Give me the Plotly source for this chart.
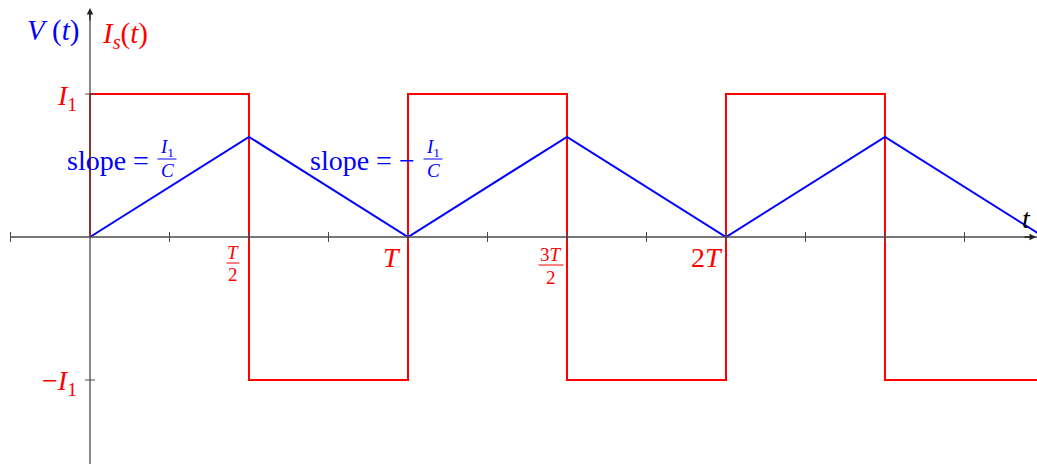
import plotly.graph_objects as go

# time in units of T, amplitude in units of I1
t_is = [0, 0, 0.5, 1, 1.5, 2, 2.5, 3]
is_vals = [0, 1, -1, 1, -1, 1, -1, -1]

t_v = [0, 0.5, 1, 1.5, 2, 2.5, 3]
v_vals = [0, 0.7, 0, 0.7, 0, 0.7, 0]

x_ticks = [-0.25, 0.25, 0.5, 0.75, 1, 1.25, 1.5, 1.75, 2, 2.25, 2.5, 2.75]
y_ticks = [1, -1]

W, H = 1037, 464
FONT = "Liberation Serif"
RED = "#ff0000"
BLUE = "#0000ff"
AXIS = "#4a4a4a"


def paper(x, y):
    # pixel position -> paper coords (plot area fills the page)
    return x / W, 1 - y / H


fig = go.Figure()

# axes
fig.add_shape(type="line", xref="paper", yref="y", x0=10 / W, x1=1, y0=0, y1=0,
              line=dict(color=AXIS, width=1.3))
fig.add_shape(type="line", xref="x", yref="paper", x0=0, x1=0, y0=0, y1=1 - 10 / H,
              line=dict(color=AXIS, width=1.3))
for t in x_ticks:
    fig.add_shape(type="line", xref="x", yref="y", ysizemode="pixel", yanchor=0,
                  x0=t, x1=t, y0=-5, y1=5, line=dict(color=AXIS, width=1))
for v in y_ticks:
    fig.add_shape(type="line", xref="x", yref="y", xsizemode="pixel", xanchor=0,
                  x0=-5, x1=5, y0=v, y1=v, line=dict(color=AXIS, width=1))

# arrow heads
fig.add_annotation(xref="paper", yref="paper", x=90 / W, y=1 - 8 / H, ax=0, ay=14,
                   text="", showarrow=True, arrowhead=2, arrowsize=1, arrowwidth=1.3,
                   arrowcolor="#222")
fig.add_annotation(xref="paper", yref="paper", x=1.0, y=1 - 237 / H, ax=-14, ay=0,
                   text="", showarrow=True, arrowhead=2, arrowsize=1, arrowwidth=1.3,
                   arrowcolor="#222")

# curves
fig.add_trace(go.Scatter(x=t_is, y=is_vals, mode="lines", line_shape="hv",
                         line=dict(color=RED, width=2), hoverinfo="skip"))
fig.add_trace(go.Scatter(x=t_v, y=v_vals, mode="lines",
                         line=dict(color=BLUE, width=2), hoverinfo="skip"))


def label(x, y, text, color, size=28, xanchor="center"):
    px, py = paper(x, y)
    fig.add_annotation(xref="paper", yref="paper", x=px, y=py, text=text,
                       showarrow=False, xanchor=xanchor, yanchor="middle",
                       font=dict(family=FONT, size=size, color=color))


def frac(cx, num_y, bar_y, den_y, bar_w, num, den, color, size=19):
    label(cx, num_y, num, color, size)
    label(cx, den_y, den, color, size)
    x0, y0 = paper(cx - bar_w / 2, bar_y)
    x1, _ = paper(cx + bar_w / 2, bar_y)
    fig.add_shape(type="line", xref="paper", yref="paper", x0=x0, x1=x1, y0=y0, y1=y0,
                  line=dict(color=color, width=1))


I1 = "<i>I</i><sub>1</sub>"

# axis titles
label(53, 31, "<i>V</i> (<i>t</i>)", BLUE, size=29)
label(100, 35, "<i>I<sub>s</sub></i>(<i>t</i>)", RED, size=29, xanchor="left")
label(1026, 218, "<i>t</i>", "black")

# y tick labels
label(79, 97, I1, RED, xanchor="right")
label(79, 382, "\u2212" + I1, RED, xanchor="right")

# x tick labels
frac(233, 253, 263, 274, 13, "<i>T</i>", "2", RED)
label(392, 257, "<i>T</i>", RED)
frac(551, 254, 265, 277, 25, "3<i>T</i>", "2", RED)
label(707, 257, "2<i>T</i>", RED)

# slope notes
label(65, 160, "slope =", BLUE, xanchor="left")
frac(167, 148, 159, 170, 19, I1, "<i>C</i>", BLUE)
label(308, 160, "slope = \u2212", BLUE, xanchor="left")
frac(433, 148, 159, 170, 19, I1, "<i>C</i>", BLUE)

fig.update_xaxes(range=[-90 / 318, (W - 90) / 318], visible=False)
fig.update_yaxes(range=[-(H - 237) / 143, 237 / 143], visible=False)
fig.update_layout(width=W, height=H, margin=dict(l=0, r=0, t=0, b=0),
                  plot_bgcolor="white", paper_bgcolor="white", showlegend=False)

fig.write_html("out.html", config={"displayModeBar": False},
               post_script="document.body.style.margin='0';")
